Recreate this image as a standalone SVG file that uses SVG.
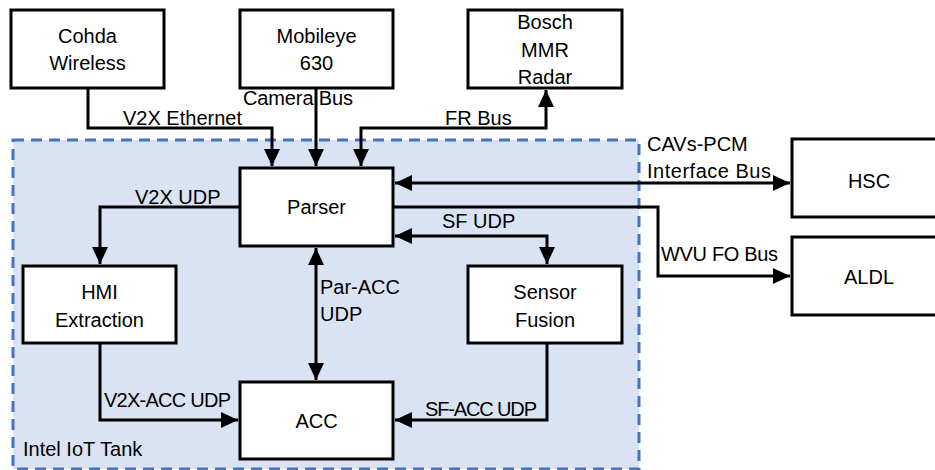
<svg xmlns="http://www.w3.org/2000/svg" width="935" height="470" viewBox="0 0 935 470">
<style>
.box{fill:#fff;stroke:#000;stroke-width:3}
.t{font-family:"Liberation Sans",Arial,sans-serif;font-size:20px;fill:#000}
.c{text-anchor:middle}
.ln{fill:none;stroke:#000;stroke-width:3}
</style>
<defs>
<marker id="ah" markerUnits="userSpaceOnUse" markerWidth="18" markerHeight="16" refX="17" refY="8" orient="auto-start-reverse">
<path d="M0,0 L17,8 L0,16 Z" fill="#000"/>
</marker>
</defs>
<rect id="container" x="13" y="140" width="626" height="329" fill="#dae3f3" stroke="#4472c4" stroke-width="3" stroke-dasharray="11,7"/>
<text class="t" x="23" y="456">Intel IoT Tank</text>
<g id="connectors">
<path class="ln" d="M88,88 V128 H272 V166" marker-end="url(#ah)"/>
<path class="ln" d="M316,88 V166" marker-end="url(#ah)"/>
<path class="ln" d="M361,166 V128 H546 V90" marker-start="url(#ah)" marker-end="url(#ah)"/>
<path class="ln" d="M240,207 H100 V264" marker-end="url(#ah)"/>
<path class="ln" d="M100,343 V420 H238" marker-end="url(#ah)"/>
<path class="ln" d="M316,248 V380" marker-start="url(#ah)" marker-end="url(#ah)"/>
<path class="ln" d="M395,236 H547 V264" marker-start="url(#ah)" marker-end="url(#ah)"/>
<path class="ln" d="M547,343 V420 H395" marker-end="url(#ah)"/>
<path class="ln" d="M395,183 H790" marker-start="url(#ah)" marker-end="url(#ah)"/>
<path class="ln" d="M393,207 H658 V276 H790" marker-end="url(#ah)"/>
<text class="t" x="123" y="125">V2X Ethernet</text>
<text class="t" x="243" y="105" textLength="110">Camera Bus</text>
<text class="t" x="445" y="125">FR Bus</text>
<text class="t" x="135" y="204">V2X UDP</text>
<text class="t" x="104" y="407" textLength="127">V2X-ACC UDP</text>
<text class="t" x="320" y="294">Par-ACC</text>
<text class="t" x="320" y="321">UDP</text>
<text class="t" x="442" y="228">SF UDP</text>
<text class="t" x="425" y="416" textLength="112">SF-ACC UDP</text>
<text class="t" x="647" y="151">CAVs-PCM</text>
<text class="t" x="647" y="178" textLength="124">Interface Bus</text>
<text class="t" x="661" y="261" textLength="117">WVU FO Bus</text>
</g>
<g id="cohda"><rect class="box" x="11" y="10" width="153" height="78"/><text class="t c" x="87.5" y="43">Cohda</text><text class="t c" x="87.5" y="70">Wireless</text></g>
<g id="mobileye"><rect class="box" x="240" y="10" width="153" height="78"/><text class="t c" x="316.5" y="43">Mobileye</text><text class="t c" x="316.5" y="70">630</text></g>
<g id="bosch"><rect class="box" x="468" y="10" width="154" height="78"/><text class="t c" x="545" y="29">Bosch</text><text class="t c" x="545" y="57">MMR</text><text class="t c" x="545" y="84">Radar</text></g>
<g id="parser"><rect class="box" x="240" y="168" width="153" height="78"/><text class="t c" x="316.5" y="214">Parser</text></g>
<g id="hmi"><rect class="box" x="23" y="266" width="153" height="77"/><text class="t c" x="99.5" y="299">HMI</text><text class="t c" x="99.5" y="327">Extraction</text></g>
<g id="sensorfusion"><rect class="box" x="468" y="266" width="154" height="77"/><text class="t c" x="545" y="299">Sensor</text><text class="t c" x="545" y="327">Fusion</text></g>
<g id="acc"><rect class="box" x="240" y="382" width="153" height="77"/><text class="t c" x="316.5" y="428">ACC</text></g>
<g id="hsc"><rect class="box" x="792" y="139" width="155" height="78"/><text class="t c" x="869" y="188">HSC</text></g>
<g id="aldl"><rect class="box" x="792" y="237" width="155" height="78"/><text class="t c" x="869" y="284">ALDL</text></g>
</svg>
